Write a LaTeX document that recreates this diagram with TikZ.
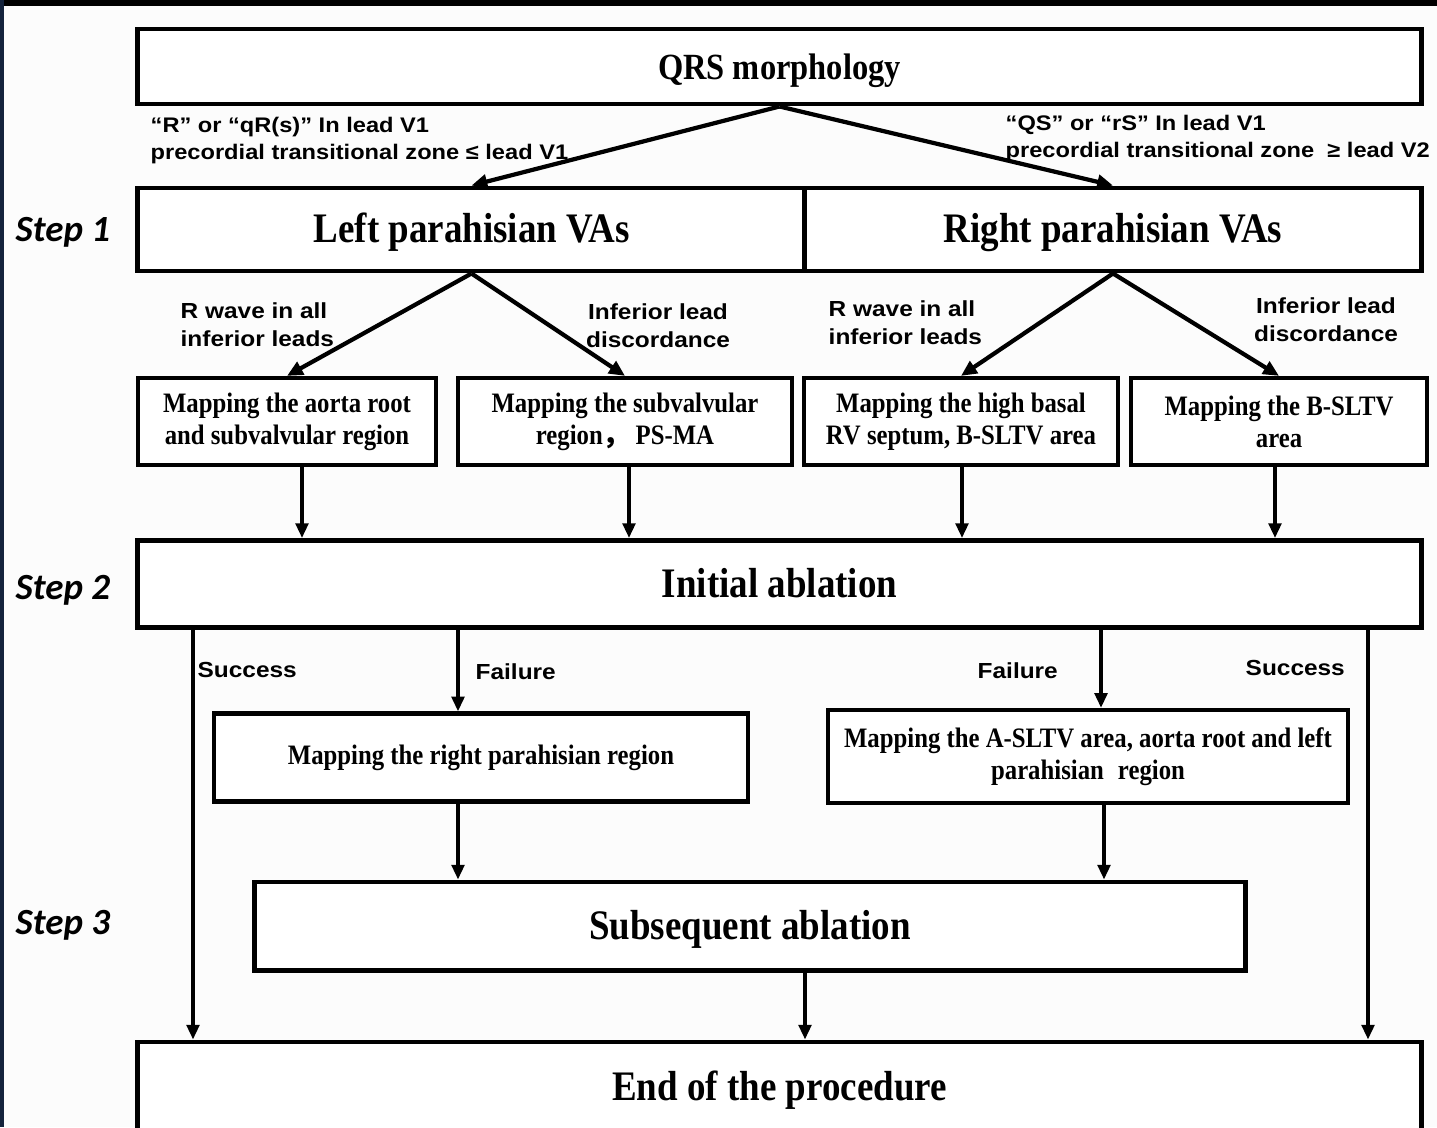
\documentclass[tikz,border=0pt]{standalone}
\usepackage{fontspec}
\setmainfont{Liberation Serif}
\newfontfamily\serifc[FakeStretch=0.88]{Liberation Serif}
\newfontfamily\sansw[FakeStretch=1.12]{Liberation Sans}
\newfontfamily\stepf{Carlito}
\newfontfamily\cjk{Noto Sans CJK SC}
\usetikzlibrary{arrows.meta}
\definecolor{navyedge}{RGB}{20,35,60}
\definecolor{bgpaper}{RGB}{252,252,252}
\begin{document}
\begin{tikzpicture}[x=0.01cm,y=-0.01cm,
 bigbox/.style={draw, line width=1.4pt, rectangle, inner sep=0pt, fill=white, text height=0.75em, text depth=0pt, font=\serifc\bfseries\fontsize{11.95}{14}\selectfont},
 mapbox/.style={draw, line width=1.2pt, rectangle, inner sep=0pt, fill=white, align=center, font=\serifc\bfseries\fontsize{8}{9.1}\selectfont},
 lbl/.style={inner sep=0pt, font=\sansw\bfseries\fontsize{6.2}{7.9}\selectfont},
 toplbl/.style={inner sep=0pt, anchor=west, align=left, font=\sansw\bfseries\fontsize{6.0}{7.7}\selectfont},
 steplbl/.style={inner sep=0pt, anchor=west, font=\stepf\bfseries\itshape\fontsize{10.5}{12}\selectfont},
 arr/.style={line width=1pt, -{Triangle[length=4.2pt,width=3.6pt]}},
 darr/.style={line width=1.2pt, -{Triangle[length=4.5pt,width=4pt]}},
]
\useasboundingbox (0,0) rectangle (1437,1127);
\clip (0,0) rectangle (1437,1127);
\fill[bgpaper] (0,0) rectangle (1437,1127);
\fill[black] (0,0) rectangle (1437,6);
\fill[navyedge] (0,0) rectangle (4,1127);

% boxes
\node[bigbox, minimum width=12.83cm, minimum height=0.75cm, font=\serifc\bfseries\fontsize{10.5}{12}\selectfont] (qrs) at (779.5,66.5) {QRS morphology};
\node[bigbox, minimum width=6.67cm, minimum height=0.83cm] (lp) at (471.5,229.5) {Left parahisian VAs};
\node[bigbox, minimum width=6.16cm, minimum height=0.83cm] (rp) at (1113,229.5) {Right parahisian VAs};

\node[mapbox, minimum width=2.98cm, minimum height=0.87cm] (m1) at (287,421.5) {Mapping the aorta root\\and subvalvular region};
\node[mapbox, minimum width=3.34cm, minimum height=0.87cm] (m2) at (625,421.5) {Mapping the subvalvular\\region{\cjk ，}\,PS-MA};
\node[mapbox, minimum width=3.14cm, minimum height=0.87cm] (m3) at (961,421.5) {Mapping the high basal\\RV septum, B-SLTV area};
\node[mapbox, minimum width=2.96cm, minimum height=0.87cm] (m4) at (1279,421.5) {Mapping the B-SLTV\\area};

\node[bigbox, minimum width=12.83cm, minimum height=0.87cm] (ia) at (779.5,584) {Initial ablation};

\node[mapbox, minimum width=5.34cm, minimum height=0.88cm] (rpm) at (481,757.5) {Mapping the right parahisian region};
\node[mapbox, minimum width=5.20cm, minimum height=0.93cm] (asl) at (1088,756.5) {Mapping the A-SLTV area, aorta root and left\\parahisian\enspace region};

\node[bigbox, minimum width=9.90cm, minimum height=0.88cm] (sub) at (750,926) {Subsequent ablation};
\node[bigbox, minimum width=12.83cm, minimum height=0.90cm] (end) at (779.5,1087) {End of the procedure};

% step labels
\node[steplbl] (s1) at (15,232) {Step 1};
\node[steplbl] (s2) at (15,590) {Step 2};
\node[steplbl] (s3) at (15,925) {Step 3};

% top labels
\node[toplbl] (t1) at (150,140.5) {“R” or “qR(s)” In lead V1\\precordial transitional zone ≤ lead V1};
\node[toplbl] (t2) at (1005,138.5) {“QS” or “rS” In lead V1\\precordial transitional zone \ ≥ lead V2};

% level 2 labels
\node[lbl, anchor=west, align=left] (l1) at (180,325) {R wave in all\\inferior leads};
\node[lbl, align=center] (l2) at (658,325.5) {Inferior lead\\discordance};
\node[lbl, anchor=west, align=left] (l3) at (828,323) {R wave in all\\inferior leads};
\node[lbl, align=center] (l4) at (1326,320) {Inferior lead\\discordance};

% outcome labels
\node[lbl, anchor=west] (o1) at (197,670) {Success};
\node[lbl, anchor=west] (o2) at (475,672) {Failure};
\node[lbl, anchor=west] (o3) at (977,671) {Failure};
\node[lbl, anchor=west] (o4) at (1245,668) {Success};

% x positions
\coordinate (x193) at (193,0);
\coordinate (x302) at (302,0);
\coordinate (x629) at (629,0);
\coordinate (x962) at (962,0);
\coordinate (x1275) at (1275,0);
\coordinate (x458) at (458,0);
\coordinate (x1101) at (1101,0);
\coordinate (x1104) at (1104,0);
\coordinate (x805) at (805,0);
\coordinate (x1368) at (1368,0);

% connectors
\draw[darr] (qrs.south) -- (lp.north);
\draw[darr] (qrs.south) -- (rp.north);
\draw[darr] (lp.south) -- (m1.north);
\draw[darr] (lp.south) -- (m2.north);
\draw[darr] (rp.south) -- (m3.north);
\draw[darr] (rp.south) -- (m4.north);

\draw[arr] (m1.south -| x302) -- (ia.north -| x302);
\draw[arr] (m2.south -| x629) -- (ia.north -| x629);
\draw[arr] (m3.south -| x962) -- (ia.north -| x962);
\draw[arr] (m4.south -| x1275) -- (ia.north -| x1275);

\draw[arr] (ia.south -| x193) -- (end.north -| x193);
\draw[arr] (ia.south -| x1368) -- (end.north -| x1368);
\draw[arr] (ia.south -| x458) -- (rpm.north -| x458);
\draw[arr] (ia.south -| x1101) -- (asl.north -| x1101);
\draw[arr] (rpm.south -| x458) -- (sub.north -| x458);
\draw[arr] (asl.south -| x1104) -- (sub.north -| x1104);
\draw[arr] (sub.south -| x805) -- (end.north -| x805);
\end{tikzpicture}
\end{document}
